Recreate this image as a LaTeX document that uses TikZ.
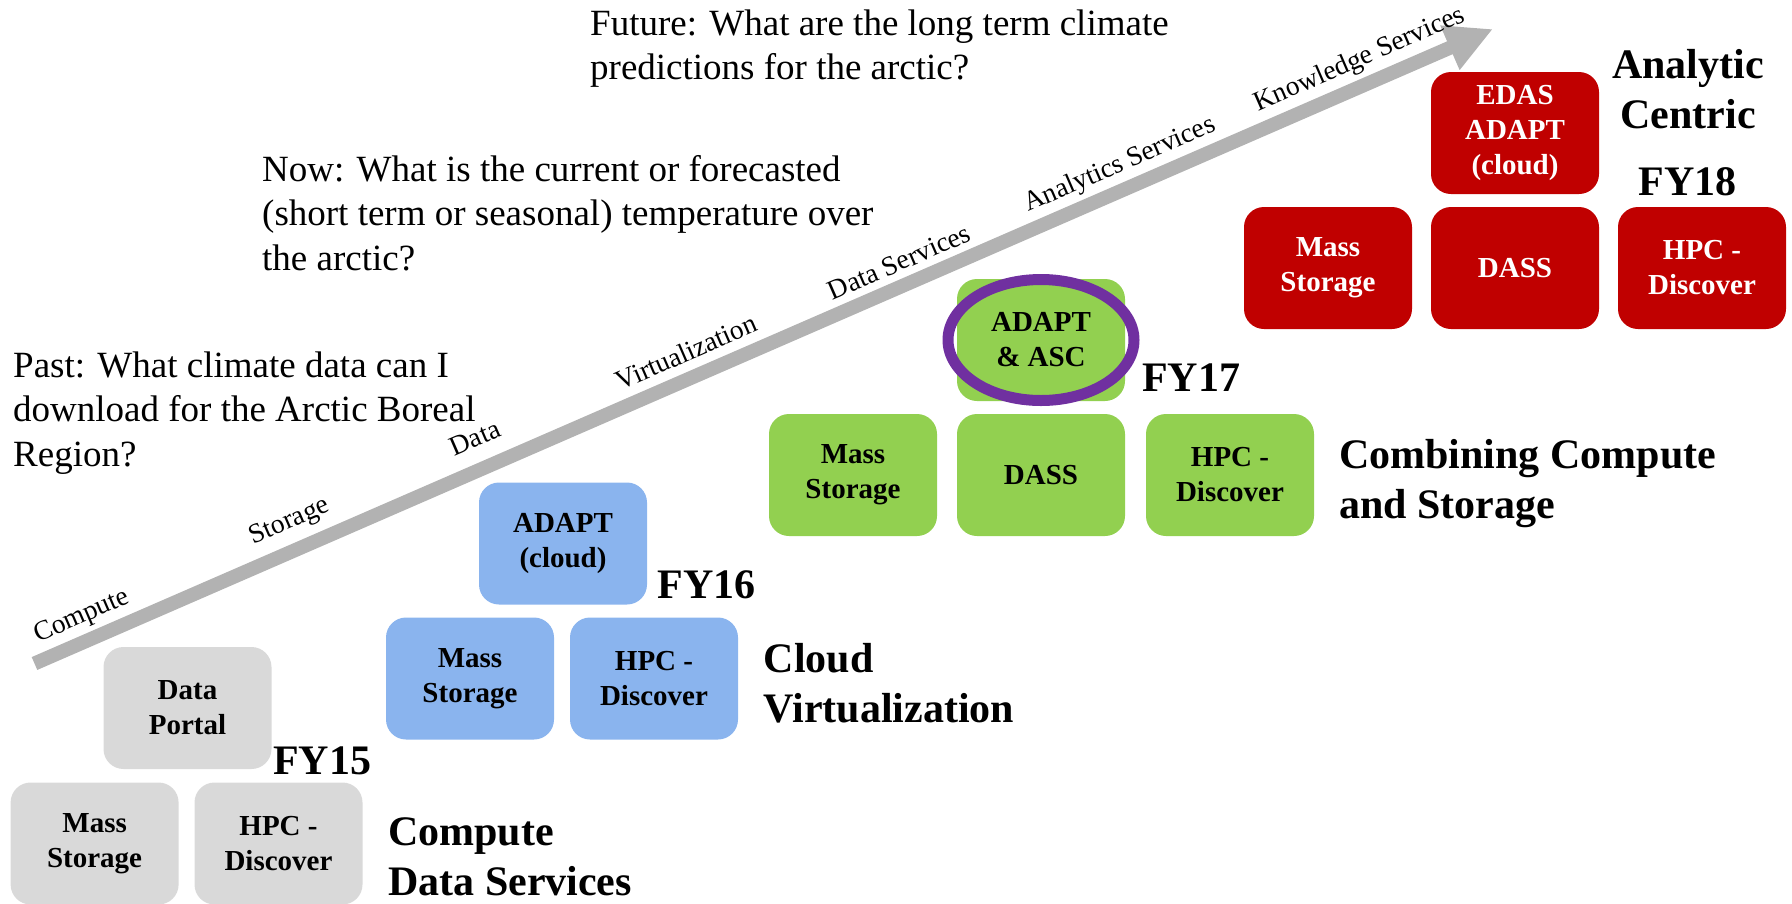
\documentclass[tikz,border=0pt]{standalone}
\usepackage{fontspec}
\setmainfont{Liberation Serif}
\usetikzlibrary{arrows.meta}
\definecolor{boxgray}{RGB}{217,217,217}
\definecolor{boxblue}{RGB}{138,180,238}
\definecolor{boxgreen}{RGB}{146,208,80}
\definecolor{boxred}{RGB}{192,0,0}
\definecolor{ringpurple}{RGB}{112,48,160}
\definecolor{arrowgray}{RGB}{178,178,178}
\begin{document}
\begin{tikzpicture}[x=1pt,y=-1pt,
  tile/.style={rectangle, rounded corners=20pt, minimum width=168pt, minimum height=122pt,
    inner sep=0pt, align=center, font=\fontsize{29}{35}\selectfont\bfseries},
  graytile/.style={tile, fill=boxgray},
  bluetile/.style={tile, fill=boxblue},
  greentile/.style={tile, fill=boxgreen},
  redtile/.style={tile, fill=boxred, text=white},
  heading/.style={font=\fontsize{42}{50}\selectfont\bfseries, align=left, inner sep=0pt, anchor=base west},
  question/.style={font=\fontsize{37}{44.5}\selectfont, align=left, inner sep=0pt, anchor=base west},
  steplabel/.style={font=\fontsize{27.5}{30}\selectfont, rotate=23.5, inner sep=0pt}
]
\useasboundingbox (0,0) rectangle (1792,903);

% main arrow
\coordinate (tail) at (34.5,663.5);
\coordinate (tip) at (1493,29);
\draw[arrowgray, line width=14pt, -{Triangle[length=47pt,width=45pt]}] (tail) -- (tip);

% arrow labels
\node[steplabel] (lcompute) at (82,617) {Compute};
\node[steplabel] (lstorage) at (290,522) {Storage};
\node[steplabel] (ldata) at (475,438) {Data};
\node[steplabel] (lvirt) at (686,352) {Virtualization};
\node[steplabel] (ldataserv) at (899,262) {Data Services};
\node[steplabel] (lanalytics) at (1120,165) {Analytics Services};
\node[steplabel] (lknowledge) at (1360,60) {Knowledge Services};

% questions (anchor = baseline of last line)
\node[question] (qpast) at (13,466) {Past: What climate data can I\\download for the Arctic Boreal\\Region?};
\node[question] (qnow) at (262,270) {Now: What is the current or forecasted\\(short term or seasonal) temperature over\\the arctic?};
\node[question] (qfuture) at (590,79.5) {Future: What are the long term climate\\predictions for the arctic?};

% FY15
\node[graytile] (portal15) at (187.5,708) {Data\\Portal};
\node[graytile] (mass15) at (94.6,843.5) {Mass\\Storage};
\node[graytile] (hpc15) at (278.5,843.5) {HPC -\\Discover};
\node[heading] (fy15) at (273,774) {FY15};
\node[heading] (t15) at (388,895) {Compute\\Data Services};

% FY16
\node[bluetile] (adapt16) at (563,543.5) {ADAPT\\(cloud)};
\node[bluetile] (mass16) at (470,678.5) {Mass\\Storage};
\node[bluetile] (hpc16) at (654,678.5) {HPC -\\Discover};
\node[heading] (fy16) at (657.5,598) {FY16};
\node[heading] (t16) at (763.5,722) {Cloud\\Virtualization};

% FY17
\node[greentile] (adapt17) at (1041,340) {ADAPT\\\& ASC};
\node[greentile] (mass17) at (853,475) {Mass\\Storage};
\node[greentile] (dass17) at (1041,475) {DASS};
\node[greentile] (hpc17) at (1230,475) {HPC -\\Discover};
\draw[ringpurple, line width=11pt] (adapt17.center) ellipse [x radius=93pt, y radius=60.5pt];
\node[heading] (fy17) at (1142,391) {FY17};
\node[heading] (t17) at (1339,518) {Combining Compute\\and Storage};

% FY18
\node[redtile] (edas18) at (1515,133) {EDAS\\ADAPT\\(cloud)};
\node[redtile] (mass18) at (1328,268) {Mass\\Storage};
\node[redtile] (dass18) at (1515,268) {DASS};
\node[redtile] (hpc18) at (1702,268) {HPC -\\Discover};
\node[heading, align=center, anchor=base] (t18) at (1688,128) {Analytic\\Centric};
\node[heading, anchor=base] (fy18) at (1687.5,195) {FY18};
\end{tikzpicture}
\end{document}
